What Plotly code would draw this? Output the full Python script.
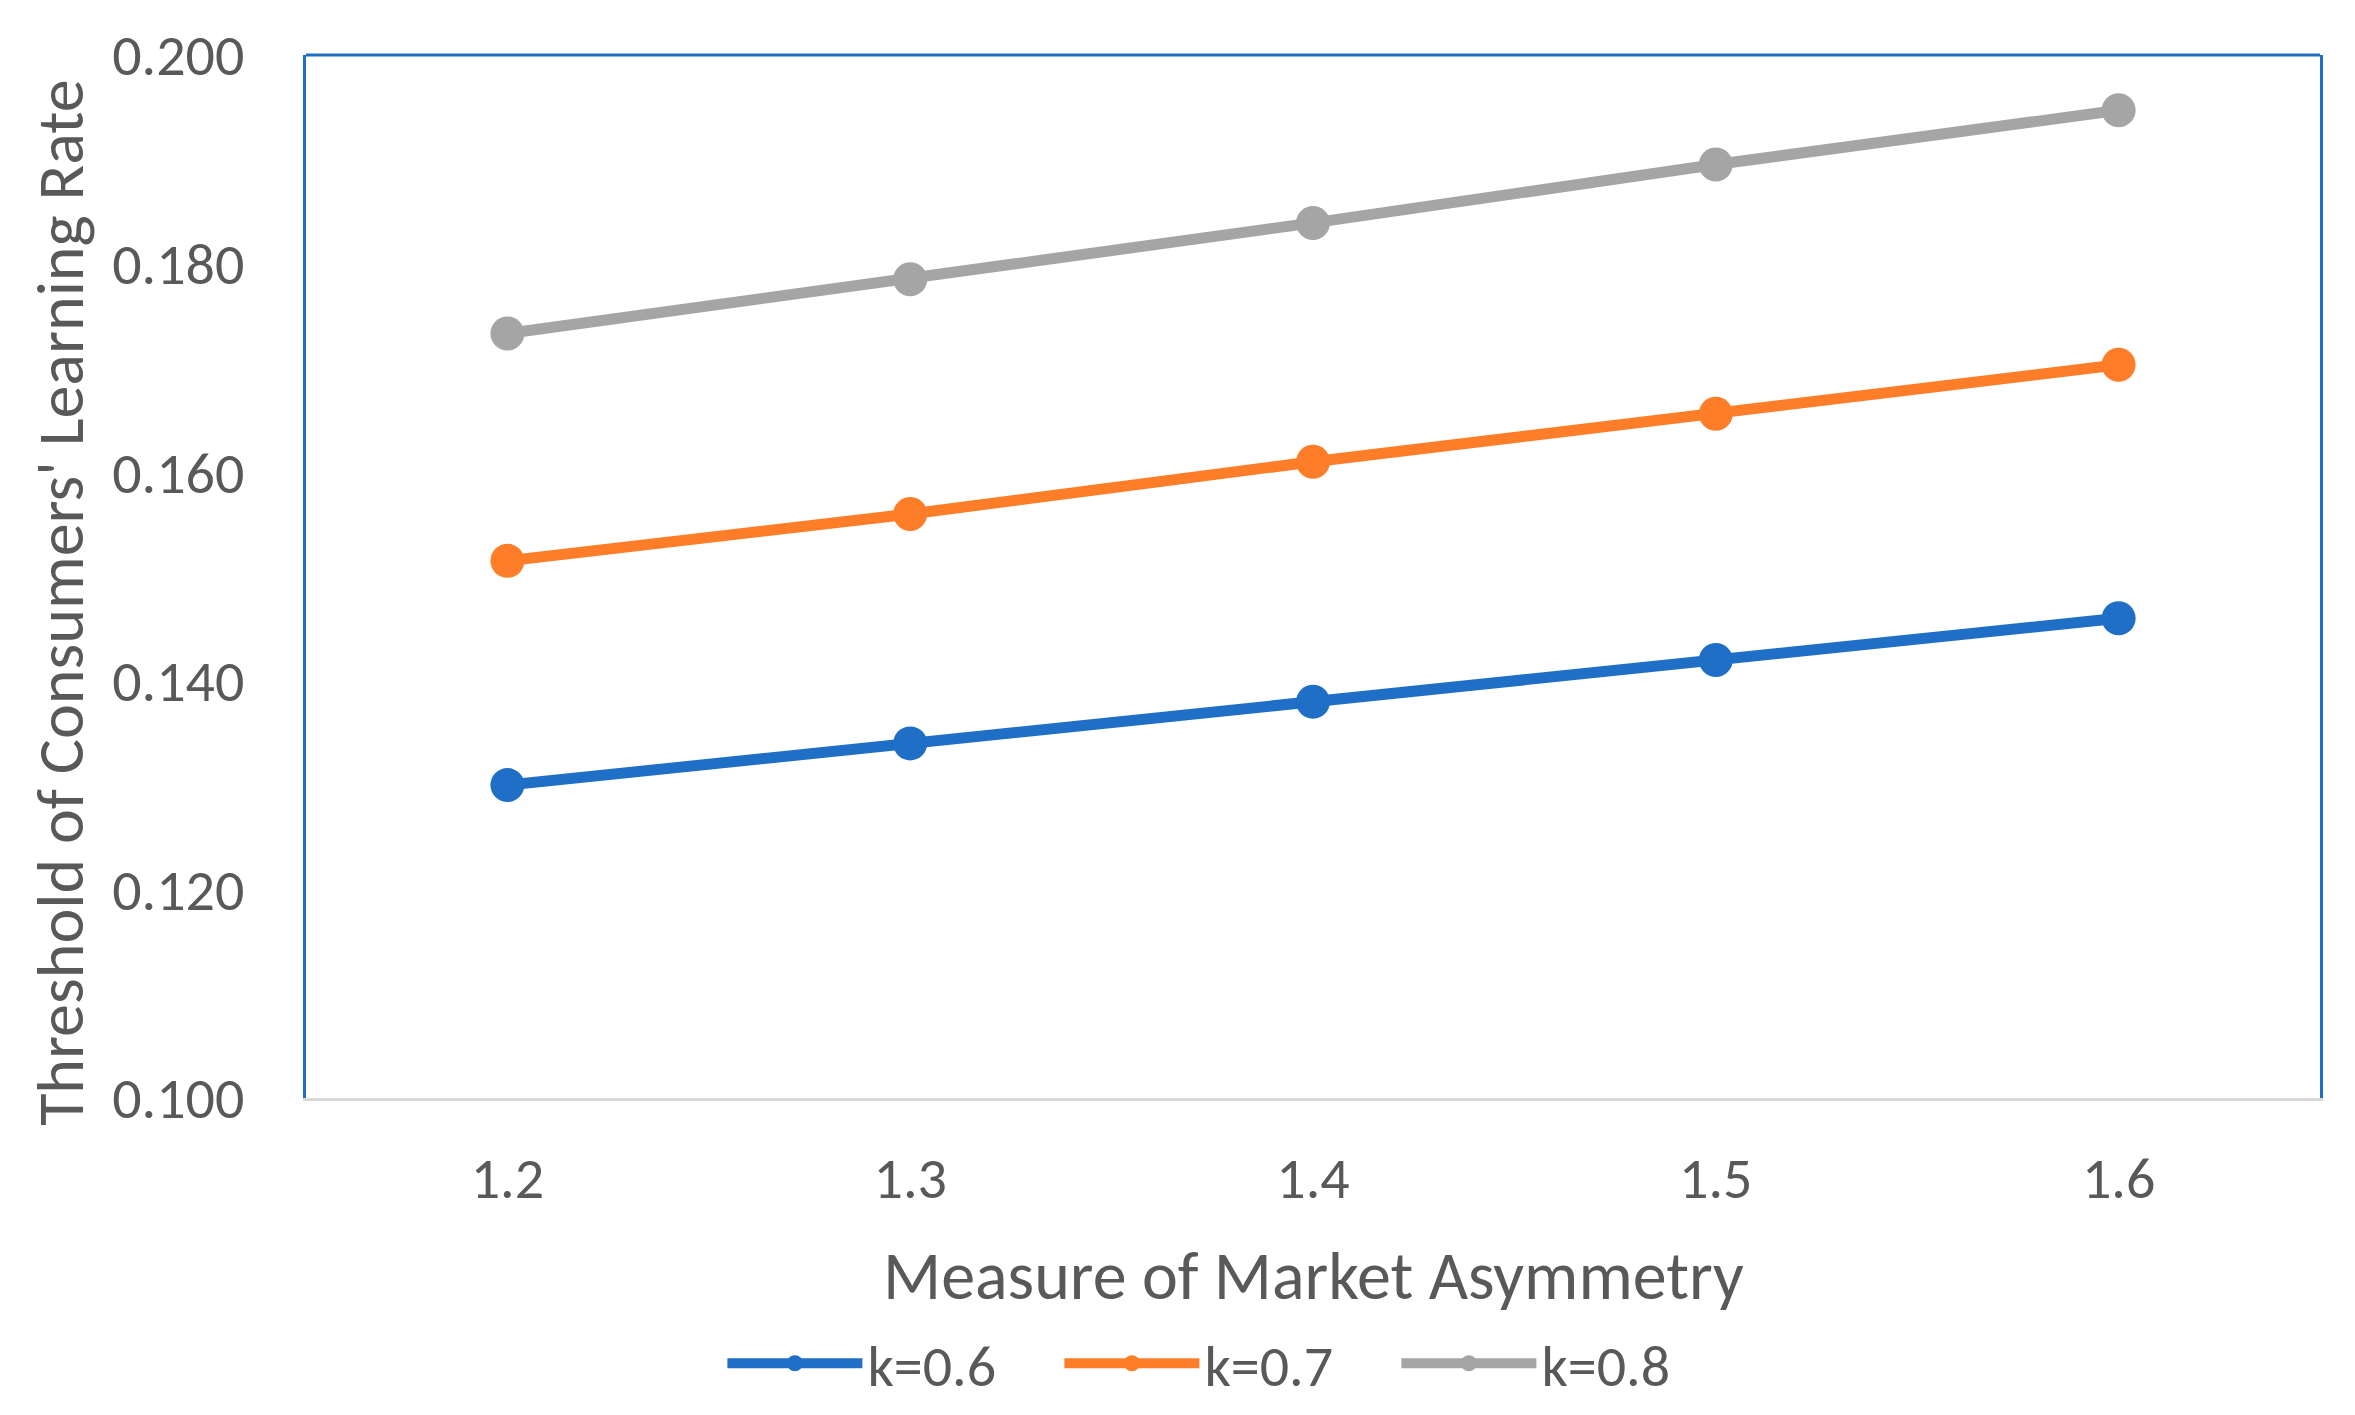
import plotly.graph_objects as go

x_vals = [1.2, 1.3, 1.4, 1.5, 1.6]
x_labels = ["1.2", "1.3", "1.4", "1.5", "1.6"]
k06 = [0.130, 0.134, 0.138, 0.142, 0.146]
k07 = [0.1515, 0.156, 0.161, 0.1656, 0.1703]
k08 = [0.1733, 0.1785, 0.1839, 0.1895, 0.1947]
series_names = ["k=0.6", "k=0.7", "k=0.8"]
series_colors = ["#1F6FC6", "#FE7D28", "#A5A5A5"]
y_ticks = [0.100, 0.120, 0.140, 0.160, 0.180, 0.200]

FONT = "Carlito, 'Liberation Sans Narrow', 'Open Sans', sans-serif"
TXT = "#595959"

fig = go.Figure()
for name, ys, col in zip(series_names, [k06, k07, k08], series_colors):
    fig.add_trace(go.Scatter(
        x=x_vals, y=ys, name=name, mode="lines+markers",
        line=dict(color=col, width=11),
        marker=dict(color=col, size=34),
    ))

fig.update_layout(
    width=2355, height=1415,
    margin=dict(l=298, r=43, t=38, b=325),
    paper_bgcolor="white", plot_bgcolor="white",
    font=dict(family=FONT, color=TXT, size=58),
    showlegend=True,
    legend=dict(orientation="h", xref="container", yref="container",
                x=0.518, y=0.042, xanchor="center", yanchor="middle",
                font=dict(size=58, color=TXT), itemwidth=135,
                entrywidth=187, traceorder="normal"),
    xaxis=dict(range=[1.15, 1.65], tickvals=x_vals, ticktext=x_labels,
               showgrid=False, zeroline=False, showline=True,
               linecolor="#D9D9D9", linewidth=3, ticks="",
               ticklabelstandoff=27,
               tickfont=dict(size=58, color=TXT)),
    yaxis=dict(range=[0.1, 0.2], tickvals=y_ticks, tickformat=".3f",
               showgrid=False, zeroline=False, showline=True, mirror=True,
               linecolor="#1F6FC6", linewidth=3, ticks="",
               ticklabelstandoff=47,
               tickfont=dict(size=58, color=TXT)),
    shapes=[dict(type="line", xref="paper", yref="paper", x0=0, x1=1, y0=1, y1=1,
                 line=dict(color="#1F6FC6", width=3))],
    annotations=[
        dict(text="Measure of Market Asymmetry", xref="paper", yref="paper",
             x=0.5, y=-0.17, xanchor="center", yanchor="middle", showarrow=False,
             font=dict(size=68, color=TXT, family=FONT)),
        dict(text="Threshold of Consumers' Learning Rate", xref="paper", yref="paper",
             x=-0.122, y=0.475, xanchor="center", yanchor="middle", showarrow=False,
             textangle=-90, font=dict(size=66, color=TXT, family=FONT)),
    ],
)

fig.write_html("out.html")
